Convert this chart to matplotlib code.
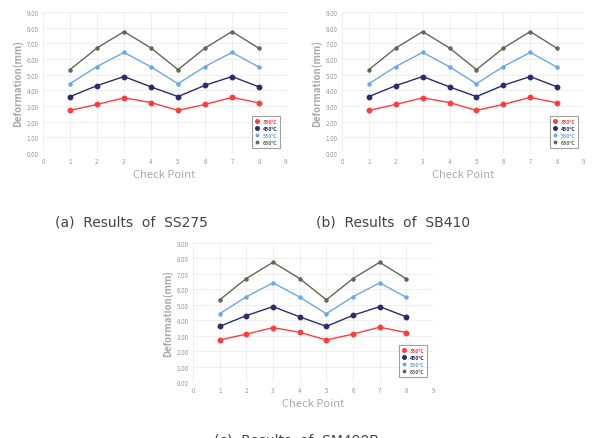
import matplotlib.pyplot as plt

check_points = [1, 2, 3, 4, 5, 6, 7, 8]
temp_labels = ["350\u2103", "450\u2103", "550\u2103", "650\u2103"]
def_350 = [2.72, 3.1, 3.52, 3.22, 2.72, 3.1, 3.55, 3.2]
def_450 = [3.6, 4.3, 4.88, 4.22, 3.6, 4.32, 4.88, 4.22]
def_550 = [4.42, 5.52, 6.42, 5.5, 4.42, 5.52, 6.42, 5.48]
def_650 = [5.32, 6.7, 7.75, 6.7, 5.32, 6.7, 7.75, 6.68]
y_ticks = [0, 1, 2, 3, 4, 5, 6, 7, 8, 9]
x_ticks = [0, 1, 2, 3, 4, 5, 6, 7, 8, 9]
captions = ["(a)  Results  of  SS275", "(b)  Results  of  SB410", "(c)  Results  of  SM490B"]

series = [def_350, def_450, def_550, def_650]
colors = ["#ff3b3b", "#2a2c6e", "#6aa8e6", "#5d6a55"]
sizes = [3.2, 3.2, 2.2, 2.2]

W, H = 593, 439
fig = plt.figure(figsize=(W / 100, H / 100), dpi=100)
plt.rcParams["font.family"] = ["Noto Sans CJK KR", "DejaVu Sans"]


def panel(x0, x1, ytop, ybot):
    ax = fig.add_axes([x0 / W, 1 - ybot / H, (x1 - x0) / W, (ybot - ytop) / H])
    for ys, c, ms in zip(series, colors, sizes):
        ax.plot(check_points, ys, color=c, lw=1.0, marker="o", ms=ms)
    ax.set_xlim(0, 9)
    ax.set_ylim(0, 9)
    ax.set_xticks(x_ticks)
    ax.set_yticks(y_ticks)
    ax.set_yticklabels([f"{v:.2f}" for v in y_ticks])
    ax.grid(True, color="#ececec", lw=0.6)
    ax.set_axisbelow(True)
    for s in ax.spines.values():
        s.set_visible(False)
    ax.axhline(0, color="#dddddd", lw=0.6)
    ax.tick_params(length=0, labelsize=4.5, colors="#999999", pad=3)
    ax.set_xlabel("Check Point", fontsize=8, color="#aaaaaa", labelpad=3)
    ax.set_ylabel("Deformation(mm)", fontsize=7, color="#aaaaaa",
                  fontweight="bold", labelpad=3)
    leg = ax.legend(temp_labels, loc="lower right", fontsize=3.8,
                    frameon=True, fancybox=False, edgecolor="#888888",
                    handlelength=0.8, handletextpad=0.6, borderpad=0.5,
                    labelspacing=0.4, markerscale=0.8,
                    bbox_to_anchor=(0.985, 0.02))
    leg.get_frame().set_linewidth(0.8)
    for txt, c in zip(leg.get_texts(), colors):
        txt.set_color(c)
        txt.set_fontweight("bold")
    for h in leg.get_lines():
        h.set_linestyle("none")
    return ax


panel(43, 286, 13, 154)
panel(342, 584, 13, 154)
panel(193, 433, 244, 383)

fig.text(131 / W, 1 - 222 / H, captions[0], fontsize=10, ha="center", va="center",
         color="#444444", family=["DejaVu Sans"])
fig.text(393 / W, 1 - 222 / H, captions[1], fontsize=10, ha="center", va="center",
         color="#444444", family=["DejaVu Sans"])
fig.text(296 / W, 1 - 440 / H, captions[2], fontsize=10, ha="center", va="center",
         color="#444444", family=["DejaVu Sans"])

fig.savefig("out.png", dpi=100)
